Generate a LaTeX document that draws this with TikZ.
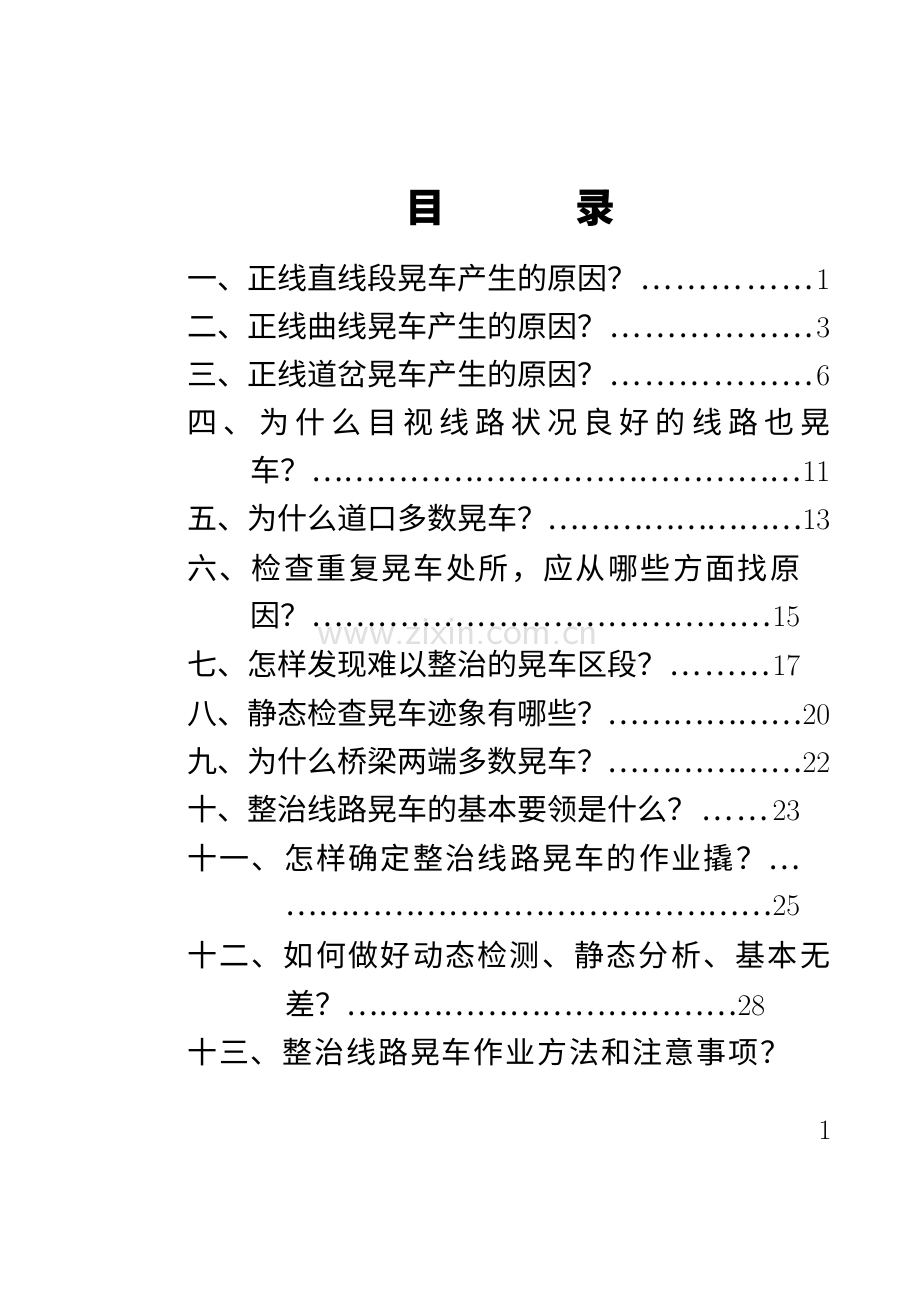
\documentclass[tikz,border=0pt]{standalone}
\usepackage{fontspec}
\newfontfamily\cjk{Noto Sans CJK SC}
\def\spr#1{\sprA#1\relax}
\def\sprA#1{\ifx\relax#1\unskip\else#1\hskip0pt plus 1fil\expandafter\sprA\fi}
\begin{document}
\newcommand{\tocl}[5]{\node[anchor=west,inner sep=0pt] at (#1,#2) {\hbox to #3pt{\fontsize{30}{30}\cjk \ifx\relax#5\relax\spr{#4}\else#4\xleaders\hbox{…}\hfill\fontsize{30}{30}\rmfamily #5\fi}};}
\begin{tikzpicture}[x=1pt,y=-1pt]
\useasboundingbox (0,0) rectangle (920,1297);
\node[text=black!12,font=\fontsize{40}{40}\sffamily] (wm) at (458,632) {www.zixin.com.cn};
\node[font=\fontsize{40}{40}\cjk\bfseries] (t1) at (425,208) {目};
\node[font=\fontsize{40}{40}\cjk\bfseries] (t2) at (595,208) {录};
\tocl{187}{278}{643}{一、正线直线段晃车产生的原因？}{1}
\tocl{187}{326}{643}{二、正线曲线晃车产生的原因？}{3}
\tocl{187}{374}{643}{三、正线道岔晃车产生的原因？}{6}
\tocl{187}{422}{643}{四、为什么目视线路状况良好的线路也晃}{}
\tocl{250}{470}{580}{车？}{11}
\tocl{187}{518}{643}{五、为什么道口多数晃车？}{13}
\tocl{187}{568}{613}{六、检查重复晃车处所，应从哪些方面找原}{}
\tocl{250}{616}{550}{因？}{15}
\tocl{187}{664}{613}{七、怎样发现难以整治的晃车区段？}{17}
\tocl{187}{713}{643}{八、静态检查晃车迹象有哪些？}{20}
\tocl{187}{761}{643}{九、为什么桥梁两端多数晃车？}{22}
\tocl{187}{809}{613}{十、整治线路晃车的基本要领是什么？}{23}
\tocl{187}{858}{613}{十一、怎样确定整治线路晃车的作业撬？…}{}
\tocl{285}{906}{515}{}{25}
\tocl{187}{955}{643}{十二、如何做好动态检测、静态分析、基本无}{}
\tocl{285}{1003}{480}{差？}{28}
\tocl{187}{1052}{603}{十三、整治线路晃车作业方法和注意事项？}{}
\node[font=\fontsize{28}{28}\rmfamily] (pg) at (825,1130) {1};
\end{tikzpicture}
\end{document}
